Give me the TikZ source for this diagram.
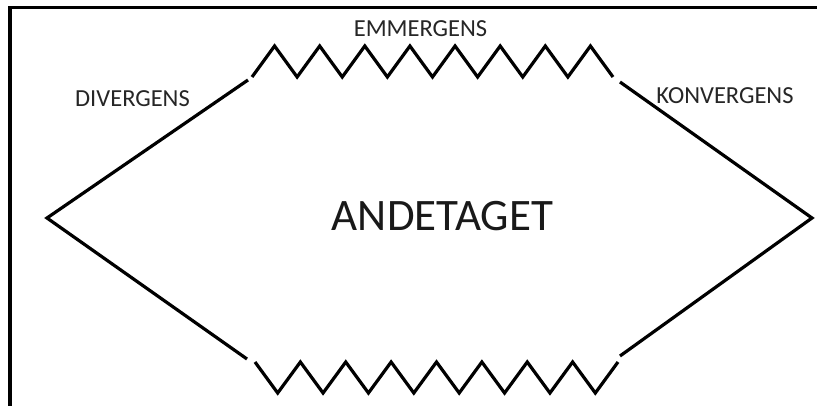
\documentclass[tikz,border=0pt]{standalone}
\usepackage{fontspec}
\setmainfont{Carlito}
\begin{document}
\begin{tikzpicture}[x=1pt,y=-1pt,
  stroke/.style={line width=3.2pt,black},
  label/.style={anchor=base,inner sep=0pt,text=black!85,font=\fontsize{24.5}{26}\selectfont},
  big/.style={anchor=base,inner sep=0pt,text=black!90,font=\fontsize{45}{47}\selectfont}]
\useasboundingbox (0,0) rectangle (817,406);
\fill[white] (0,0) rectangle (817,406);
% frame
\draw[line width=3.2pt] (817,7.5) -- (10,7.5) -- (10,406);
% vertices
\coordinate (L) at (47,218);
\coordinate (R) at (812,218);
\coordinate (TL) at (248,80);
\coordinate (BL) at (247,359);
\coordinate (TR) at (620,82);
\coordinate (BR) at (620,356);
% diagonals
\draw[stroke] (TL) -- (L) -- (BL);
\draw[stroke] (TR) -- (R) -- (BR);
% top zigzag
\draw[stroke] (252,77) \foreach \k in {0,...,7} { -- ({252+45.125*(\k+0.5)},46) -- ({252+45.125*(\k+1)},77) };
% bottom zigzag
\draw[stroke] (255,362) \foreach \k in {0,...,7} { -- ({255+45.375*(\k+0.5)},393) -- ({255+45.375*(\k+1)},362) };
% labels
\node[label] (em) at (420.5,37) {EMMERGENS};
\node[label] (di) at (132.5,107) {DIVERGENS};
\node[label] (ko) at (725,104) {KONVERGENS};
\node[big] (an) at (442.5,231) {ANDETAGET};
\end{tikzpicture}
\end{document}
